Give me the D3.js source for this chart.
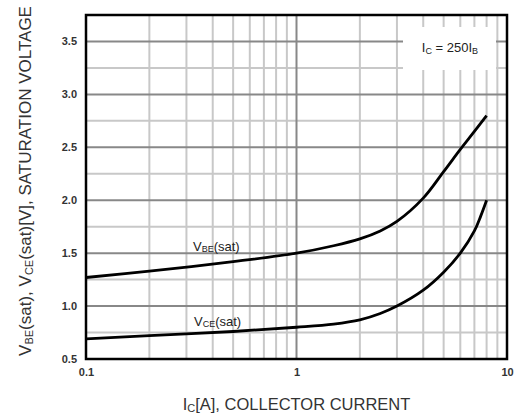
<!DOCTYPE html>
<html>
<head>
<meta charset="utf-8">
<script src="https://cdn.jsdelivr.net/npm/d3@7"></script>
<style>
  body { margin: 0; background: #fff; }
  svg { display: block; font-family: "Liberation Sans", Arial, sans-serif; }
</style>
</head>
<body>
<svg id="chart" width="516" height="419"></svg>
<script>
// collector current [A] vs saturation voltage [V]
const vbeSat = [[0.1, 1.27], [0.2, 1.33], [0.5, 1.42], [1, 1.5], [1.5, 1.57], [2, 1.635], [2.5, 1.71],
                [3, 1.8], [4, 2.02], [5, 2.27], [6, 2.48], [7, 2.65], [8, 2.8]];
const vceSat = [[0.1, 0.69], [0.2, 0.72], [0.5, 0.76], [1, 0.8], [1.5, 0.83], [2, 0.87], [2.5, 0.93],
                [3, 1.0], [4, 1.15], [5, 1.32], [6, 1.5], [7, 1.71], [7.5, 1.85], [8, 2.0]];
const xTicks = [0.1, 1, 10];
const yTicks = [0.5, 1.0, 1.5, 2.0, 2.5, 3.0, 3.5];

const margin = {top: 15, right: 9, bottom: 60, left: 86};
const width = 516 - margin.left - margin.right;
const height = 419 - margin.top - margin.bottom;

const svg = d3.select('#chart');
const g = svg.append('g').attr('transform', `translate(${margin.left},${margin.top})`);

const x = d3.scaleLog().domain([0.1, 10]).range([0, width]);
const y = d3.scaleLinear().domain([0.5, 3.75]).range([height, 0]);

// grid - minor first, then major on top
let minorX = [];
[0.1, 1].forEach(d => { for (let k = 2; k <= 9; k++) minorX.push(d * k); });
let minorY = d3.range(0.75, 3.75, 0.5);

const grid = g.append('g');
grid.selectAll('.mx').data(minorX).join('line')
    .attr('x1', d => x(d)).attr('x2', d => x(d))
    .attr('y1', 0).attr('y2', height)
    .attr('stroke', '#c8c8c8').attr('stroke-width', 2);
grid.selectAll('.my').data(minorY).join('line')
    .attr('x1', 0).attr('x2', width)
    .attr('y1', d => y(d)).attr('y2', d => y(d))
    .attr('stroke', '#c8c8c8').attr('stroke-width', 2);
grid.selectAll('.MY').data(yTicks.slice(1)).join('line')
    .attr('x1', 0).attr('x2', width)
    .attr('y1', d => y(d)).attr('y2', d => y(d))
    .attr('stroke', '#888').attr('stroke-width', 2);
grid.append('line')
    .attr('x1', x(1)).attr('x2', x(1))
    .attr('y1', 0).attr('y2', height)
    .attr('stroke', '#888').attr('stroke-width', 2);

// white box behind the condition label
g.append('rect')
    .attr('x', 317).attr('y', 12)
    .attr('width', 93).attr('height', 43)
    .attr('fill', '#fff');
const cond = g.append('text')
    .attr('x', 364).attr('y', 37)
    .attr('text-anchor', 'middle')
    .attr('font-size', 13).attr('fill', '#222');
cond.append('tspan').text('I');
cond.append('tspan').attr('font-size', 9).attr('dy', 2).text('C');
cond.append('tspan').attr('dy', -2).text(' = 250I');
cond.append('tspan').attr('font-size', 9).attr('dy', 2).text('B');

// curves
const line = d3.line()
    .x(d => x(d[0]))
    .y(d => y(d[1]))
    .curve(d3.curveCatmullRom.alpha(0.5));

[vbeSat, vceSat].forEach(s => {
    g.append('path')
        .datum(s)
        .attr('d', line)
        .attr('fill', 'none')
        .attr('stroke', '#000')
        .attr('stroke-width', 2.8);
});

// curve labels
function subLabel (px, py, sub) {
    let t = g.append('text')
        .attr('x', px).attr('y', py)
        .attr('font-size', 13).attr('fill', '#222');
    t.append('tspan').text('V');
    t.append('tspan').attr('font-size', 9).attr('dy', 1).text(sub);
    t.append('tspan').attr('dy', -1).text('(sat)');
}
subLabel(107, 236, 'BE');
subLabel(108, 311, 'CE');

// frame
g.append('rect')
    .attr('width', width).attr('height', height)
    .attr('fill', 'none')
    .attr('stroke', '#000').attr('stroke-width', 2.5);

// axes
const xAxis = g.append('g')
    .attr('transform', `translate(0,${height})`)
    .call(d3.axisBottom(x).tickValues(xTicks).tickFormat(d3.format('')).tickSize(0).tickPadding(9));
const yAxis = g.append('g')
    .call(d3.axisLeft(y).tickValues(yTicks).tickFormat(d3.format('.1f')).tickSize(0).tickPadding(9));
[xAxis, yAxis].forEach(a => {
    a.select('.domain').remove();
    a.selectAll('text')
        .attr('font-family', '"Liberation Sans", Arial, sans-serif')
        .attr('font-size', 11).attr('font-weight', 'bold').attr('fill', '#333');
});

// axis titles
const xt = svg.append('text')
    .attr('x', margin.left + x(1)).attr('y', 410)
    .attr('text-anchor', 'middle')
    .attr('font-size', 16.5).attr('fill', '#333');
xt.append('tspan').text('I');
xt.append('tspan').attr('font-size', 11).attr('dy', 2).text('C');
xt.append('tspan').attr('dy', -2).text('[A], COLLECTOR CURRENT');

const yt = svg.append('text')
    .attr('transform', 'translate(31,181) rotate(-90)')
    .attr('text-anchor', 'middle')
    .attr('font-size', 17).attr('fill', '#333');
yt.append('tspan').text('V');
yt.append('tspan').attr('font-size', 11).attr('dy', 2).text('BE');
yt.append('tspan').attr('dy', -2).text('(sat), V');
yt.append('tspan').attr('font-size', 11).attr('dy', 2).text('CE');
yt.append('tspan').attr('dy', -2).text('(sat)[V], SATURATION VOLTAGE');
</script>
</body>
</html>
